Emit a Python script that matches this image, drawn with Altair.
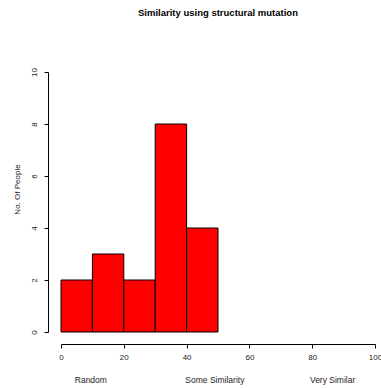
import altair as alt
import pandas as pd

bin_start = [0, 10, 20, 30, 40]
bin_end = [10, 20, 30, 40, 50]
counts = [2, 3, 2, 8, 4]
x_ticks = [0, 20, 40, 60, 80, 100]
y_ticks = [0, 2, 4, 6, 8, 10]
cat_labels = ["Random", "Some Similarity", "Very Similar"]
cat_pos = [9.5, 49, 86.5]

FONT = "Liberation Sans"

hist = pd.DataFrame({"start": bin_start, "end": bin_end, "count": counts})
cats = pd.DataFrame({"label": cat_labels, "pos": cat_pos})

xscale = alt.Scale(domain=[0, 100], nice=False, zero=False)
yscale = alt.Scale(domain=[0, 10], nice=False)

bars = alt.Chart(hist).mark_rect(
    color="#FF0000", stroke="black", strokeWidth=1, opacity=1
).encode(
    x=alt.X("start:Q", scale=xscale,
            axis=alt.Axis(values=x_ticks, offset=12, title=None, grid=False,
                          tickSize=4, labelPadding=5, labelFont=FONT,
                          labelFontSize=8, labelColor="#222222",
                          domainColor="black", tickColor="black",
                          labelFlush=False, labelOverlap=False)),
    x2="end:Q",
    y=alt.Y("count:Q", scale=yscale,
            axis=alt.Axis(values=y_ticks, offset=13, title="No. Of People",
                          grid=False, tickSize=4, labelPadding=6,
                          labelAngle=-90, labelAlign="center",
                          labelBaseline="bottom", labelFont=FONT,
                          labelFontSize=8, labelColor="#222222",
                          domainColor="black", tickColor="black",
                          titleFont=FONT, titleFontSize=8,
                          titleFontWeight="normal", titleColor="#222222",
                          titlePadding=9, titleY=117,
                          labelFlush=False, labelOverlap=False)),
    y2=alt.datum(0),
)

texts = alt.Chart(cats).mark_text(
    font=FONT, fontSize=8.5, color="#222222", baseline="middle", align="center"
).encode(
    x=alt.X("pos:Q", scale=xscale),
    y=alt.value(308),
    text="label:N",
)

chart = alt.layer(bars, texts).properties(
    width=314,
    height=260,
    autosize=alt.AutoSizeParams(type="none"),
    padding={"left": 61, "top": 72, "right": 6, "bottom": 56},
    title=alt.TitleParams(
        "Similarity using structural mutation",
        font=FONT, fontSize=9.5, fontWeight="bold", color="black",
        anchor="middle", offset=50,
    ),
).configure(background="white", view=alt.ViewConfig(stroke=None))

chart.save("out.html", embed_options={"renderer": "svg", "actions": False})
